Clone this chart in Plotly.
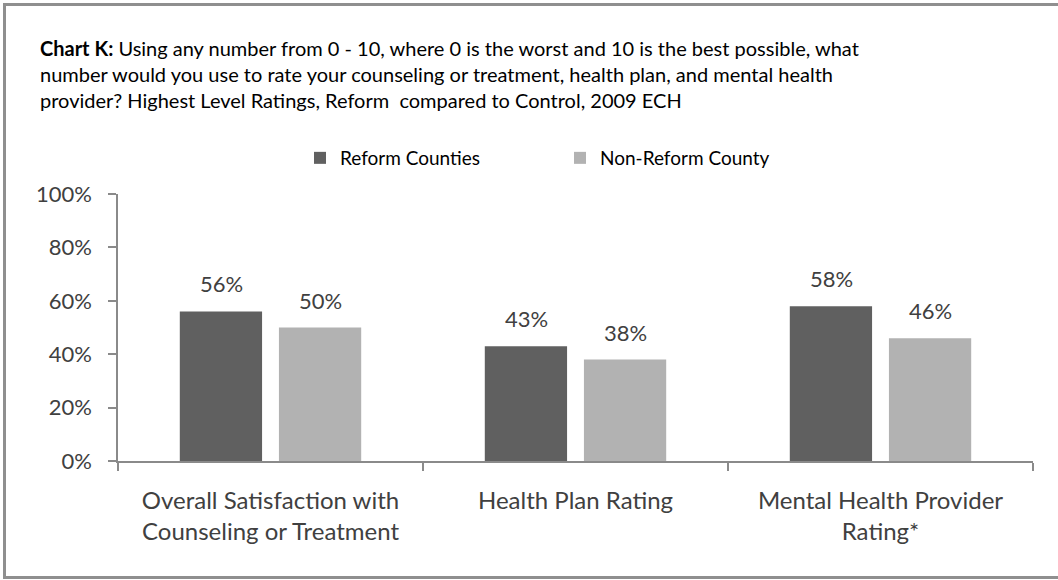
import plotly.graph_objects as go

categories = ["Overall Satisfaction with<br>Counseling or Treatment",
              "Health Plan Rating",
              "Mental Health Provider<br>Rating*"]
series_names = ["Reform Counties", "Non-Reform County"]
reform = [56, 43, 58]
nonreform = [50, 38, 46]
y_ticks = [0, 20, 40, 60, 80, 100]
y_tick_labels = ["0%", "20%", "40%", "60%", "80%", "100%"]

W, H = 1058, 580
L, R, T, B = 118, 25, 194, 119
PW, PH = W - L - R, H - T - B

def px_x(p):
    return (p - L) / PW

def px_y(p):
    return (H - B - p) / PH

FONT = "Lato"
dark, light = "#606060", "#b2b2b2"
txt = "#404040"
axis_col = "#8a8a8a"

fig = go.Figure()
for name, vals, col in [(series_names[0], reform, dark), (series_names[1], nonreform, light)]:
    fig.add_trace(go.Bar(name=name, x=categories, y=vals, marker=dict(color=col, line=dict(width=0))))

# data labels
slot = 99
for i, vals in enumerate([reform, nonreform]):
    shift = -slot / 2 if i == 0 else slot / 2
    for c, v in zip(categories, vals):
        fig.add_annotation(x=c, y=v, text=f"{v}%", showarrow=False, xshift=shift,
                           yanchor="bottom", yshift=12,
                           font=dict(family=FONT, size=22, color=txt))

title = ("<b>Chart K:</b> Using any number from 0 - 10, where 0 is the worst and 10 is the best possible, what<br>"
         "number would you use to rate your counseling or treatment, health plan, and mental health<br>"
         "provider? Highest Level Ratings, Reform  compared to Control, 2009 ECH")
fig.add_annotation(xref="paper", yref="paper", x=px_x(38), y=px_y(34), xanchor="left", yanchor="top",
                   align="left", showarrow=False, text=title,
                   font=dict(family=FONT, size=20, color="#000000"))

# outer frame
bc, bw = "#8f8f8f", 3
fig.add_shape(type="line", xref="paper", yref="paper", x0=px_x(4.5), x1=px_x(4.5), y0=px_y(3), y1=px_y(579), line=dict(color=bc, width=bw))
fig.add_shape(type="line", xref="paper", yref="paper", x0=px_x(3), x1=px_x(1060), y0=px_y(4.5), y1=px_y(4.5), line=dict(color=bc, width=bw))
fig.add_shape(type="line", xref="paper", yref="paper", x0=px_x(3), x1=px_x(1060), y0=px_y(577.5), y1=px_y(577.5), line=dict(color=bc, width=bw))

fig.update_layout(
    width=W, height=H,
    margin=dict(l=L, r=R, t=T, b=B),
    paper_bgcolor="white", plot_bgcolor="white",
    barmode="group", bargap=0.35, bargroupgap=0.17,
    showlegend=True,
    legend=dict(orientation="h", x=px_x(300), y=px_y(139), xanchor="left", yanchor="top",
                font=dict(family=FONT, size=19, color="#000000"),
                entrywidth=215, entrywidthmode="pixels", bgcolor="rgba(0,0,0,0)"),
    xaxis=dict(showline=True, linecolor=axis_col, linewidth=1.5, ticks="outside", tickson="boundaries",
               ticklen=8, tickcolor=axis_col, tickwidth=1.5, showgrid=False,
               tickfont=dict(family=FONT, size=24, color=txt), ticklabelstandoff=17),
    yaxis=dict(range=[0, 100], tickmode="array", tickvals=y_ticks, ticktext=y_tick_labels,
               showline=True, linecolor=axis_col, linewidth=1.5,
               ticks="outside", ticklen=8, tickcolor=axis_col, tickwidth=1.5, showgrid=False, zeroline=False,
               tickfont=dict(family=FONT, size=22, color=txt), ticklabelstandoff=12),
)

fig.write_html("out.html")
